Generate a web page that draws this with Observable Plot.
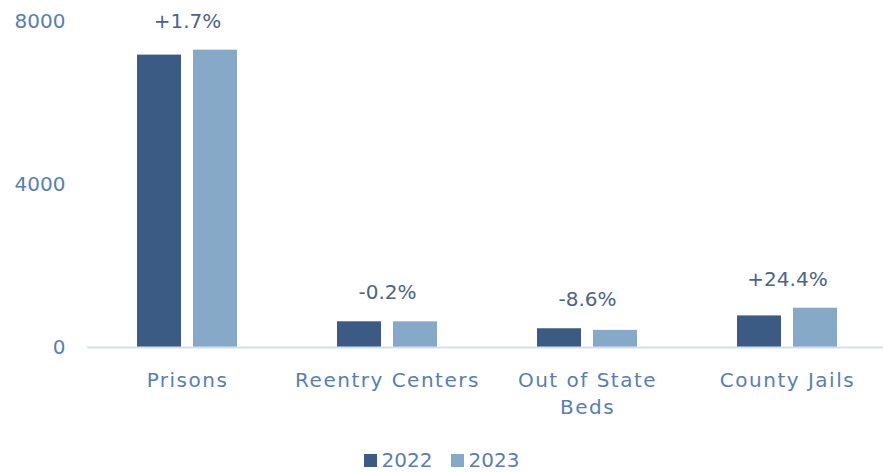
<!DOCTYPE html>
<html>
<head>
<meta charset="utf-8">
<script src="https://cdn.jsdelivr.net/npm/d3@7"></script>
<script src="https://cdn.jsdelivr.net/npm/@observablehq/plot@0.6"></script>
<style>
  html, body { margin: 0; padding: 0; background: #fff; overflow: hidden; }
  #chart { width: 883px; height: 430px; overflow: hidden; }
  #chart g[aria-label="fx-axis tick label"] text { letter-spacing: 1.5px; }
  .legend { display: flex; justify-content: center; align-items: center; gap: 18px;
    font-family: "DejaVu Sans", sans-serif; font-size: 20px; color: #5a7db5; padding-top: 18px; line-height: 24px; }
  .legend span.sw { display: inline-block; width: 13px; height: 13px; margin-right: 5px; vertical-align: middle; }
  .legend .item { display: flex; align-items: center; }
</style>
</head>
<body>
<div id="chart"></div>
<script>
const categories = ["Prisons", "Reentry Centers", "Out of State Beds", "County Jails"];
const years = ["2022", "2023"];
const values2022 = [7175, 631, 460, 775];
const values2023 = [7297, 630, 420, 964];
const changeLabels = ["+1.7%", "-0.2%", "-8.6%", "+24.4%"];
const yTicks = [0, 4000, 8000];
const colors = ["#3b5a84", "#87a9c8"];

const data = [];
categories.forEach((c, i) => {
  data.push({cat: c, year: years[0], value: values2022[i]});
  data.push({cat: c, year: years[1], value: values2023[i]});
});
const labels = categories.map((c, i) => ({cat: c, label: changeLabels[i], top: Math.max(values2022[i], values2023[i])}));

const chart = Plot.plot({
  width: 883,
  height: 430,
  marginLeft: 87,
  marginRight: 0,
  marginTop: 21,
  marginBottom: 83,
  style: {fontFamily: "DejaVu Sans, sans-serif", fontSize: "20px", color: "#5a7db5", background: "#fff", overflow: "hidden"},
  fx: {domain: categories, padding: 0, label: null, range: [87, 887]},
  x: {domain: years, paddingInner: 0.21, paddingOuter: 0.86, axis: null},
  y: {domain: [0, 8000], label: null},
  color: {domain: years, range: colors},
  marks: [
    Plot.axisY({ticks: yTicks, tickFormat: d => String(d), tickSize: 0, tickPadding: 22, fontSize: 20, label: null, fill: "#5a7db5"}),
    Plot.axisFx({anchor: "bottom", tickSize: 0, tickPadding: 20, fontSize: 20, label: null, fill: "#5a7db5", lineHeight: 1.35,
      tickFormat: d => d === "Out of State Beds" ? "Out of State\nBeds" : d}),
    Plot.barY(data, {fx: "cat", x: "year", y: "value", fill: "year"}),
    Plot.ruleY([0], {stroke: "#d6dfee", strokeWidth: 2}),
    Plot.text(labels, {fx: "cat", y: "top", text: "label", dy: -29, fontSize: 20, fill: "#4d6387", frameAnchor: "middle"})
  ]
});
document.getElementById("chart").appendChild(chart);

const legend = document.createElement("div");
legend.className = "legend";
years.forEach((y, i) => {
  const item = document.createElement("div");
  item.className = "item";
  item.innerHTML = `<span class="sw" style="background:${colors[i]}"></span>${y}`;
  legend.appendChild(item);
});
document.body.appendChild(legend);
</script>
</body>
</html>
